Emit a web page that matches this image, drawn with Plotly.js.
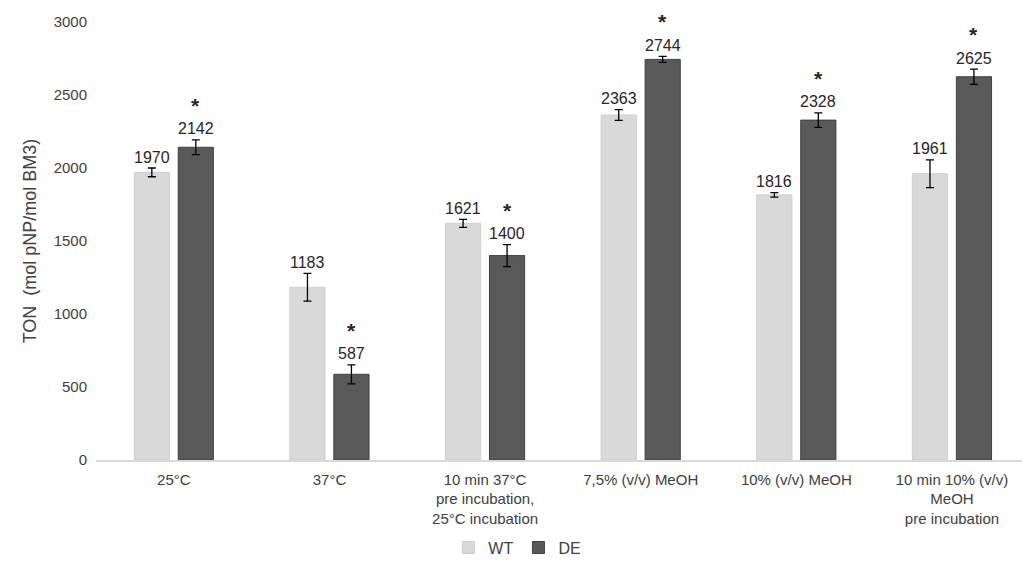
<!DOCTYPE html>
<html><head><meta charset="utf-8">
<script src="https://cdn.plot.ly/plotly-3.0.1.min.js"></script>
<style>body{margin:0;background:#fff}#c{width:1022px;height:568px}</style>
</head><body><div id="c"></div>
<script>
const categories = ["25°C","37°C","10 min 37°C<br>pre incubation,<br>25°C incubation","7,5% (v/v) MeOH","10% (v/v) MeOH","10 min 10% (v/v)<br>MeOH<br>pre incubation"];
const wtValues = [1970,1183,1621,2363,1816,1961];
const wtErrors = [30,95,27,37,15,95];
const deValues = [2142,587,1400,2744,2328,2625];
const deErrors = [50,65,75,20,50,52];
const deSignificant = [true,true,true,true,true,true];
const yTicks = [0,500,1000,1500,2000,2500,3000];

const idx = categories.map((_,i)=>i);
const bargap = 0.435, bargroupgap = 0.2;
const off = (1-bargap)/4;
const regular = "Liberation Sans, Arial, sans-serif";

const traces = [
 {type:"bar", name:"WT", x:idx, y:wtValues, marker:{color:"#d9d9d9", line:{color:"#cfcfcf", width:1}},
  error_y:{type:"data", array:wtErrors, visible:true, color:"#000", thickness:1.3, width:4}},
 {type:"bar", name:"DE", x:idx, y:deValues, marker:{color:"#595959", line:{color:"#404040", width:1}},
  error_y:{type:"data", array:deErrors, visible:true, color:"#000", thickness:1.3, width:4}}
];

const ann = [];
const lab = {family:regular, size:16, color:"#262626"};
idx.forEach(i=>{
  ann.push({x:i-off, y:wtValues[i]+wtErrors[i], text:String(wtValues[i]), showarrow:false, yanchor:"middle", yshift:11, borderpad:0, font:lab});
  ann.push({x:i+off, y:deValues[i]+deErrors[i], text:String(deValues[i]), showarrow:false, yanchor:"middle", yshift:11, borderpad:0, font:lab});
  if(deSignificant[i]) ann.push({x:i+off, y:deValues[i]+deErrors[i], text:"<b>*</b>", showarrow:false, yanchor:"bottom", yshift:22, borderpad:0, font:{family:regular, size:21, color:"#262626"}});
});

const layout = {
 width:1022, height:568, margin:{l:96, r:0, t:22, b:108},
 paper_bgcolor:"#fff", plot_bgcolor:"#fff",
 barmode:"group", bargap:bargap, bargroupgap:bargroupgap,
 font:{family:regular, size:15, color:"#404040"},
 showlegend:true,
 legend:{orientation:"h", x:0.455, xanchor:"center", y:-0.2, yanchor:"middle", font:{family:regular, size:16, color:"#404040"}, itemwidth:30, tracegroupgap:0},
 xaxis:{range:[-0.5,5.45], tickvals:idx, ticktext:categories, showline:true, linecolor:"#d9d9d9", linewidth:1.5, ticks:"", showgrid:false, zeroline:false, ticklabelstandoff:5, tickfont:{family:regular, size:15, color:"#404040"}},
 yaxis:{range:[0,3000], tickvals:yTicks, showgrid:false, zeroline:false, showline:false, ticks:"", ticklabelstandoff:8,
   tickfont:{family:regular, size:15, color:"#404040"},
   title:{text:"TON  (mol pNP/mol BM3)", font:{family:regular, size:18, color:"#404040"}, standoff:12}},
 annotations:ann
};
Plotly.newPlot("c", traces, layout, {displayModeBar:false, staticPlot:true});
</script></body></html>
